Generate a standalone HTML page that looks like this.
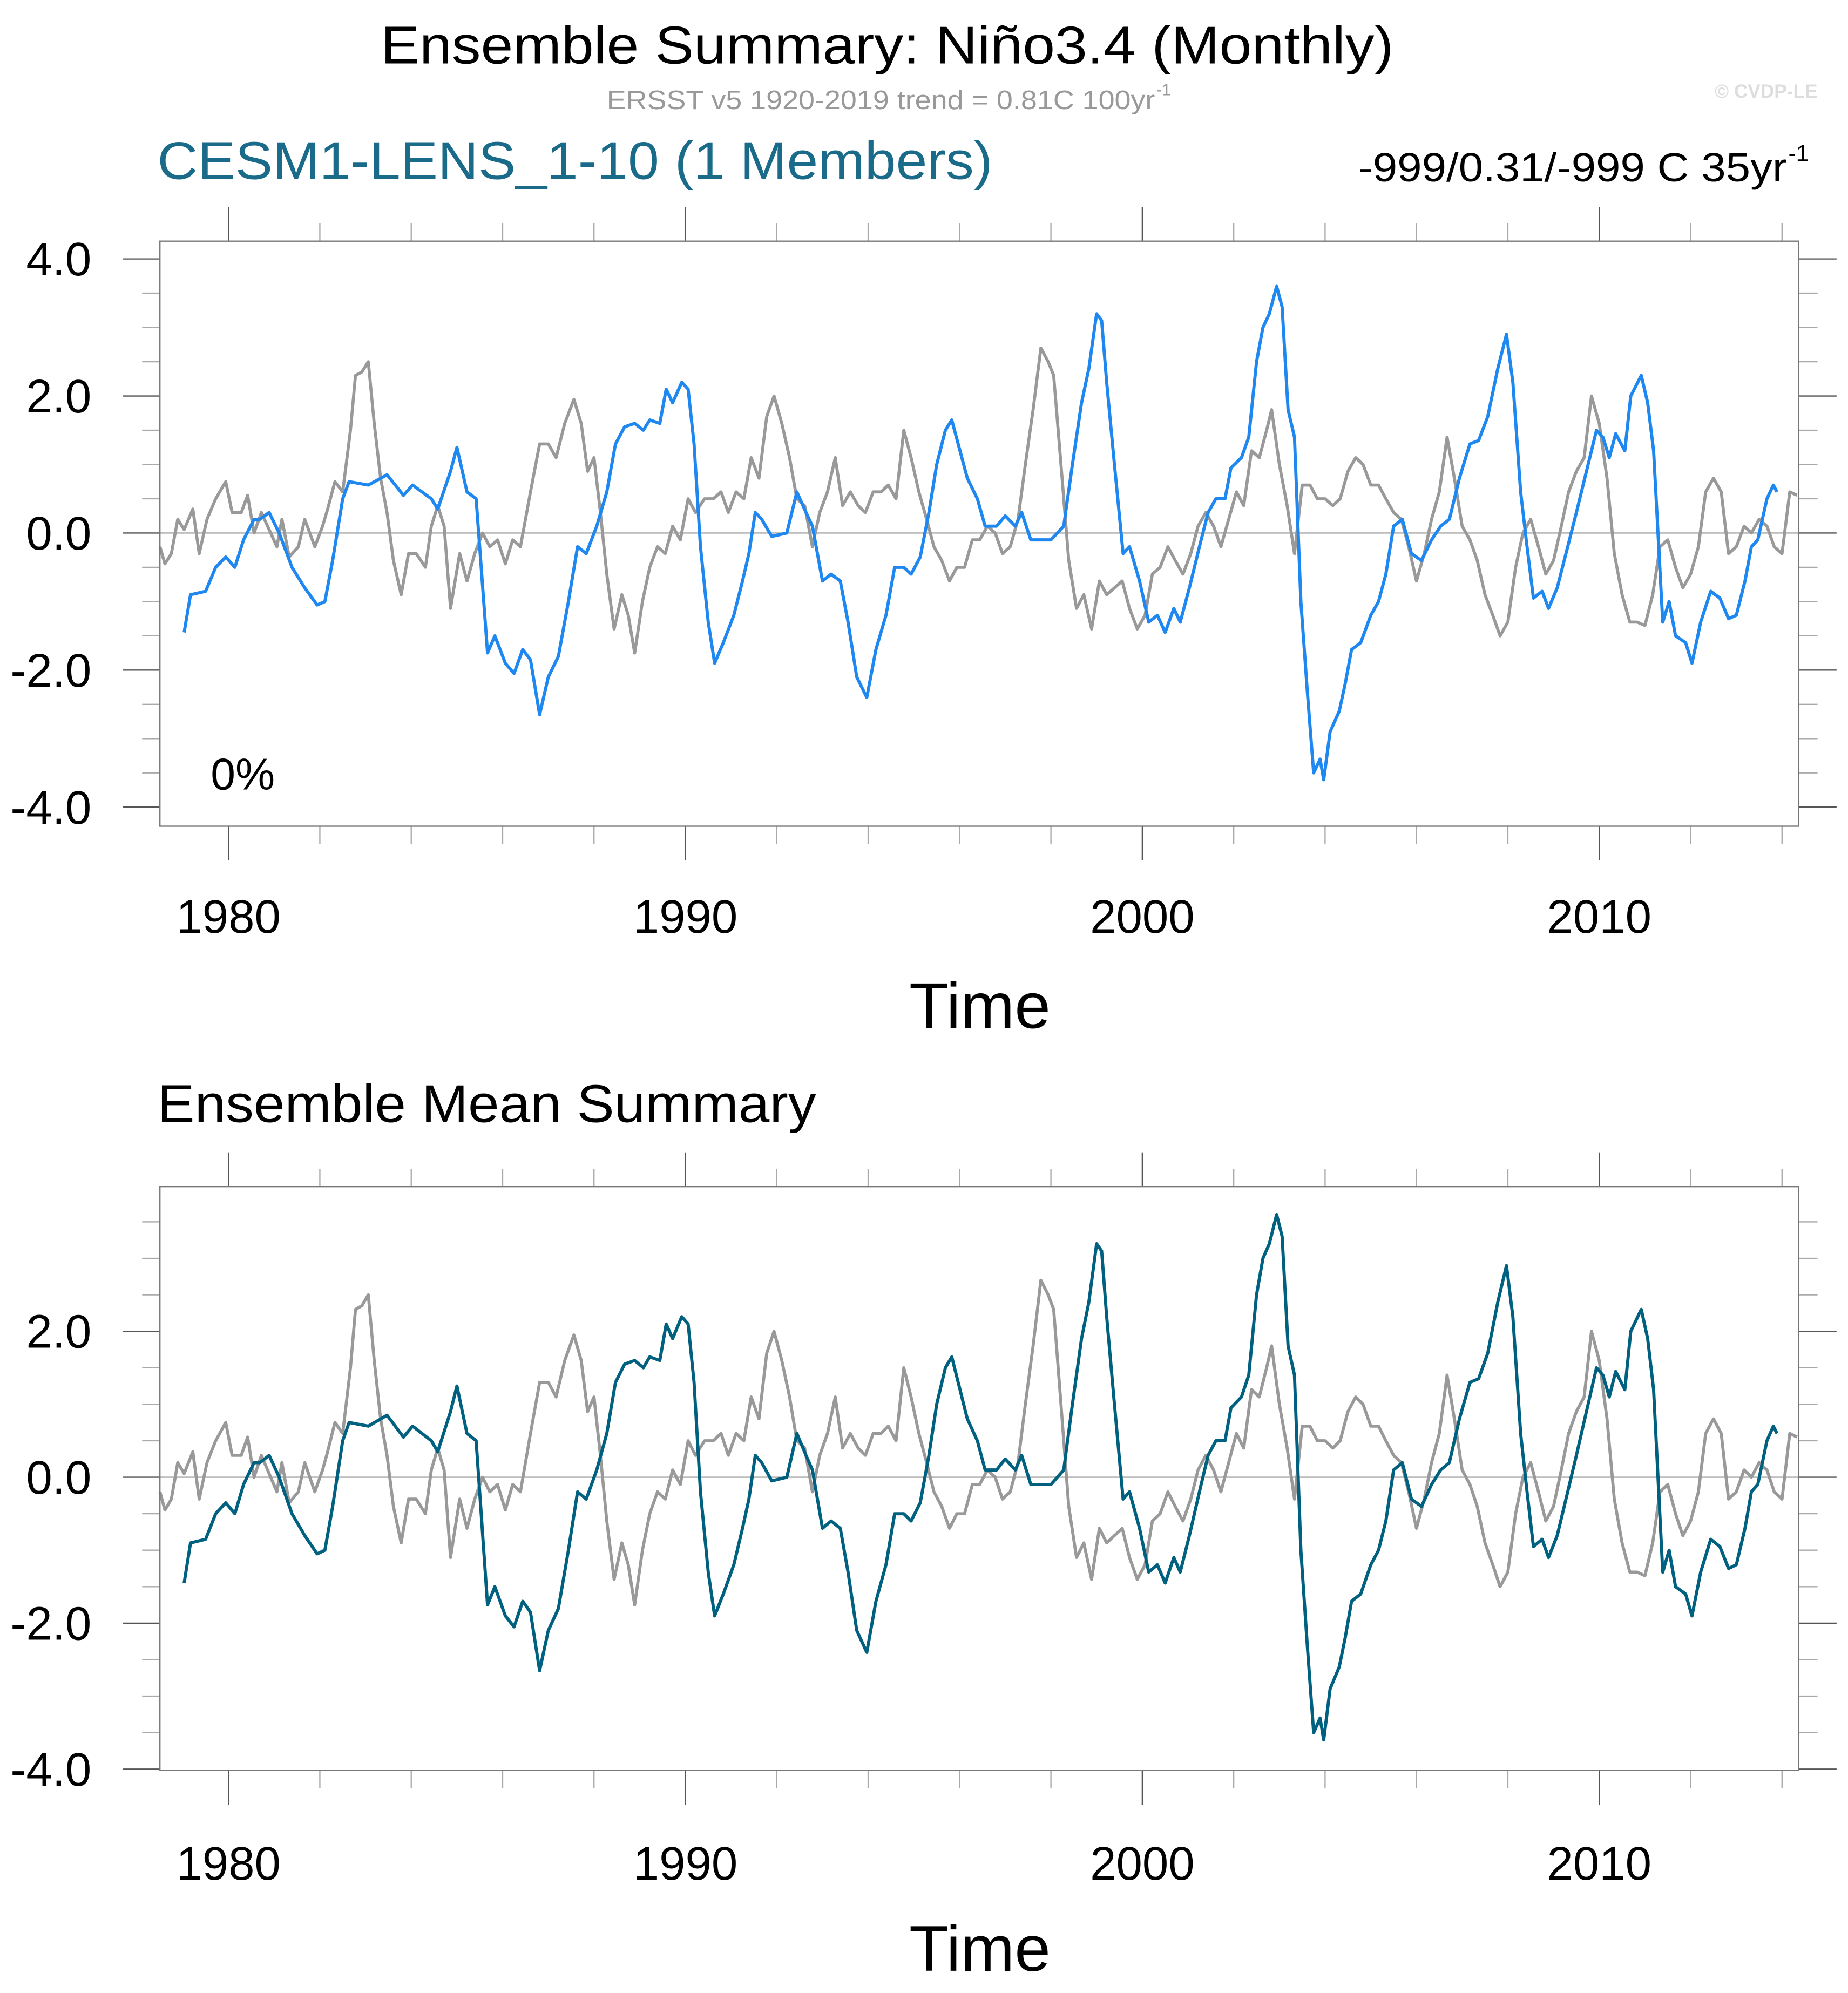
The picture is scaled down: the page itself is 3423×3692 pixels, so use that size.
<!DOCTYPE html>
<html><head><meta charset="utf-8"><style>
html,body{margin:0;padding:0;background:#fff}
svg{display:block}
text{font-family:"Liberation Sans",Arial,sans-serif}
</style></head><body>
<svg id="chart" xmlns="http://www.w3.org/2000/svg" width="3423" height="3692" viewBox="0 0 1456 1570.4">
<rect x="0" y="0" width="1456" height="1570.4" fill="#fff"/>
<text x="300" y="50" font-size="42" textLength="798" lengthAdjust="spacingAndGlyphs" fill="#000">Ensemble Summary: Niño3.4 (Monthly)</text>
<text x="478" y="86" font-size="21" textLength="432" lengthAdjust="spacingAndGlyphs" fill="#999">ERSST v5 1920-2019 trend = 0.81C 100yr</text>
<text x="911" y="75" font-size="13" fill="#999">-1</text>
<text x="1432" y="77" font-size="15" font-weight="bold" text-anchor="end" fill="#ddd">© CVDP-LE</text>
<text x="124" y="141" font-size="42" textLength="658" lengthAdjust="spacingAndGlyphs" fill="#1a6b8a">CESM1-LENS_1-10 (1 Members)</text>
<text x="1070" y="143" font-size="32" textLength="338" lengthAdjust="spacingAndGlyphs" fill="#000">-999/0.31/-999 C 35yr</text>
<text x="1409" y="127" font-size="18" fill="#000">-1</text>
<text x="166" y="622" font-size="35" fill="#000">0%</text>
<text x="124" y="884" font-size="42" textLength="519" lengthAdjust="spacingAndGlyphs" fill="#000">Ensemble Mean Summary</text>
<g id="top"></g>
<g id="bottom"></g>
</svg>
<script>
const BASE_YEAR = 1975;
const xTickYears = [1980, 1990, 2000, 2010];
const topYTicks = [4, 2, 0, -2, -4];
const topYLabels = ["4.0", "2.0", "0.0", "-2.0", "-4.0"];
const botYTicks = [2, 0, -2, -4];
const botYLabels = ["2.0", "0.0", "-2.0", "-4.0"];
// model (CESM1-LENS) series: years since BASE_YEAR and values (C)
const modelT = [4.03,4.17,4.5,4.72,4.94,5.14,5.33,5.56,5.69,5.89,6.11,6.39,6.67,6.94,7.11,7.28,7.5,7.64,8.06,8.47,8.83,9.03,9.44,9.58,9.86,10,10.22,10.42,10.67,10.83,11.06,11.25,11.44,11.61,11.81,12,12.22,12.44,12.64,12.83,13.06,13.28,13.47,13.67,13.89,14.08,14.22,14.44,14.58,14.72,14.92,15.06,15.19,15.33,15.5,15.64,15.83,16.06,16.25,16.39,16.53,16.67,16.89,17.22,17.44,17.64,17.78,18,18.19,18.39,18.56,18.75,18.97,19.17,19.39,19.58,19.78,19.94,20.14,20.33,20.5,20.69,20.83,20.97,21.17,21.39,21.56,21.81,22,22.22,22.36,22.56,22.78,23,23.28,23.47,23.67,23.83,24,24.11,24.22,24.39,24.58,24.72,24.94,25.14,25.33,25.5,25.69,25.83,26.03,26.25,26.44,26.61,26.81,26.94,27.17,27.33,27.5,27.64,27.78,27.94,28.06,28.19,28.33,28.47,28.61,28.75,28.89,28.97,29.11,29.31,29.44,29.58,29.78,30,30.17,30.33,30.5,30.69,30.89,31.11,31.33,31.53,31.72,31.94,32.17,32.36,32.56,32.78,32.97,33.11,33.28,33.42,33.56,33.75,33.89,34.08,34.31,34.5,34.72,34.94,35.08,35.22,35.36,35.56,35.69,35.92,36.06,36.19,36.39,36.53,36.67,36.89,37.03,37.22,37.44,37.64,37.83,38,38.19,38.33,38.47,38.67,38.81,38.89];
const modelV = [-1.45,-0.9,-0.85,-0.5,-0.35,-0.5,-0.1,0.2,0.2,0.3,0,-0.5,-0.8,-1.05,-1.0,-0.4,0.5,0.75,0.7,0.85,0.55,0.7,0.5,0.35,0.9,1.25,0.6,0.5,-1.75,-1.5,-1.9,-2.05,-1.7,-1.85,-2.65,-2.1,-1.8,-1.0,-0.2,-0.3,0.1,0.6,1.3,1.55,1.6,1.5,1.65,1.6,2.1,1.9,2.2,2.1,1.3,-0.2,-1.3,-1.9,-1.6,-1.2,-0.7,-0.3,0.3,0.2,-0.05,0.0,0.6,0.3,0.1,-0.7,-0.6,-0.7,-1.3,-2.1,-2.4,-1.7,-1.2,-0.5,-0.5,-0.6,-0.35,0.3,1.0,1.5,1.65,1.3,0.8,0.5,0.1,0.1,0.25,0.1,0.3,-0.1,-0.1,-0.1,0.1,1.0,1.9,2.4,3.2,3.1,2.2,1.0,-0.3,-0.2,-0.7,-1.3,-1.2,-1.45,-1.1,-1.3,-0.8,-0.2,0.3,0.5,0.5,0.95,1.1,1.4,2.5,3.0,3.2,3.6,3.3,1.8,1.4,-1.0,-2.3,-3.5,-3.3,-3.6,-2.9,-2.6,-2.2,-1.7,-1.6,-1.2,-1.0,-0.6,0.1,0.2,-0.3,-0.4,-0.1,0.1,0.2,0.8,1.3,1.35,1.7,2.4,2.9,2.2,0.6,-0.2,-0.95,-0.85,-1.1,-0.8,-0.2,0.3,0.9,1.5,1.4,1.1,1.45,1.2,2.0,2.3,1.9,1.2,-1.3,-1.0,-1.5,-1.6,-1.9,-1.3,-0.85,-0.95,-1.25,-1.2,-0.7,-0.2,-0.1,0.5,0.7,0.6];
// observations (ERSST v5) series: years since BASE_YEAR and values (C)
const obsT = [3.5,3.61,3.75,3.89,4.03,4.22,4.36,4.53,4.72,4.94,5.08,5.28,5.42,5.56,5.72,5.89,6.06,6.17,6.33,6.53,6.67,6.89,7.06,7.17,7.33,7.5,7.67,7.78,7.92,8.06,8.19,8.33,8.47,8.61,8.78,8.94,9.11,9.31,9.44,9.58,9.72,9.86,10.06,10.22,10.39,10.56,10.72,10.89,11.06,11.22,11.39,11.61,11.81,12,12.17,12.36,12.56,12.72,12.86,13,13.14,13.28,13.44,13.61,13.75,13.89,14.06,14.22,14.39,14.56,14.72,14.89,15.06,15.22,15.42,15.61,15.78,15.94,16.11,16.28,16.44,16.61,16.78,16.94,17.11,17.28,17.44,17.61,17.78,17.94,18.11,18.28,18.44,18.61,18.78,18.94,19.11,19.28,19.44,19.61,19.78,19.94,20.11,20.28,20.44,20.61,20.78,20.94,21.11,21.28,21.44,21.61,21.78,21.94,22.11,22.28,22.44,22.61,22.78,22.94,23.06,23.22,23.39,23.56,23.72,23.89,24.06,24.22,24.39,24.56,24.72,24.89,25.06,25.22,25.39,25.56,25.72,25.89,26.06,26.22,26.39,26.56,26.72,26.89,27.06,27.22,27.39,27.56,27.72,27.83,28,28.17,28.33,28.5,28.67,28.83,29,29.17,29.33,29.5,29.67,29.83,30,30.17,30.33,30.5,30.67,30.83,31,31.17,31.33,31.5,31.67,31.83,32,32.17,32.33,32.5,32.67,32.83,33,33.17,33.33,33.5,33.67,33.83,34,34.17,34.33,34.5,34.67,34.83,35,35.17,35.33,35.5,35.67,35.83,36,36.17,36.33,36.5,36.67,36.83,37,37.17,37.33,37.5,37.67,37.83,38,38.17,38.33,38.5,38.67,38.83,39,39.17,39.33];
const obsV = [-0.2,-0.45,-0.3,0.2,0.05,0.35,-0.3,0.2,0.5,0.75,0.3,0.3,0.55,0.0,0.3,0.05,-0.2,0.2,-0.35,-0.2,0.2,-0.2,0.1,0.35,0.75,0.6,1.5,2.3,2.35,2.5,1.6,0.8,0.3,-0.4,-0.9,-0.3,-0.3,-0.5,0.1,0.4,0.1,-1.1,-0.3,-0.7,-0.3,0.0,-0.2,-0.1,-0.45,-0.1,-0.2,0.6,1.3,1.3,1.1,1.6,1.95,1.6,0.9,1.1,0.3,-0.6,-1.4,-0.9,-1.2,-1.75,-1.0,-0.5,-0.2,-0.3,0.1,-0.1,0.5,0.3,0.5,0.5,0.6,0.3,0.6,0.5,1.1,0.8,1.7,2.0,1.6,1.1,0.5,0.4,-0.2,0.3,0.6,1.1,0.4,0.6,0.4,0.3,0.6,0.6,0.7,0.5,1.5,1.1,0.6,0.2,-0.2,-0.4,-0.7,-0.5,-0.5,-0.1,-0.1,0.1,0.0,-0.3,-0.2,0.2,1.0,1.8,2.7,2.5,2.3,1.0,-0.4,-1.1,-0.9,-1.4,-0.7,-0.9,-0.8,-0.7,-1.1,-1.4,-1.2,-0.6,-0.5,-0.2,-0.4,-0.6,-0.3,0.1,0.3,0.1,-0.2,0.2,0.6,0.4,1.2,1.1,1.5,1.8,1.0,0.4,-0.3,0.7,0.7,0.5,0.5,0.4,0.5,0.9,1.1,1.0,0.7,0.7,0.5,0.3,0.2,-0.2,-0.7,-0.3,0.2,0.6,1.4,0.8,0.1,-0.1,-0.4,-0.9,-1.2,-1.5,-1.3,-0.5,0.0,0.2,-0.2,-0.6,-0.4,0.1,0.6,0.9,1.1,2.0,1.6,0.8,-0.3,-0.9,-1.3,-1.3,-1.35,-0.9,-0.2,-0.1,-0.5,-0.8,-0.6,-0.2,0.6,0.8,0.6,-0.3,-0.2,0.1,0.0,0.2,0.1,-0.2,-0.3,0.6,0.55];

const NS = "http://www.w3.org/2000/svg";
function mk(parent, tag, attrs) {
  const e = document.createElementNS(NS, tag);
  for (const k in attrs) e.setAttribute(k, attrs[k]);
  parent.appendChild(e);
  return e;
}
function xScale(year) { return 180 + (year - 1980) * 36; }

function panel(g, cfg) {
  const L = 126, R = 1417, T = cfg.top, B = cfg.bottom;
  const y = v => cfg.zeroY - v * cfg.pxPerUnit;
  for (let v = -4.5; v <= 4.5; v += 0.5) {
    const py = y(v);
    if (py < T - 0.5 || py > B + 0.5) continue;
    const isMajor = Math.abs(v / 2 - Math.round(v / 2)) < 1e-6;
    const len = isMajor ? 29 : 14;
    const t1 = mk(g, "line", {x1: L - len, y1: py, x2: L, y2: py, stroke: isMajor ? "#555" : "#aaa", "stroke-width": 1});
    
    
    const t2 = mk(g, "line", {x1: R, y1: py, x2: R + len + 1, y2: py, stroke: isMajor ? "#555" : "#aaa", "stroke-width": 1});
    
    
  }
  cfg.ticks.forEach((v, i) => {
    const t = mk(g, "text", {x: 72, y: y(v) + 13, "font-size": 37, "text-anchor": "end", fill: "#000"});
    t.textContent = cfg.labels[i];
    
    
  });
  for (let yr = 1980; yr <= 2014; yr += 2) {
    const px = xScale(yr);
    const isMajor = yr % 10 === 0;
    const len = isMajor ? 27 : 14;
    const a = mk(g, "line", {x1: px, y1: T - len, x2: px, y2: T, stroke: isMajor ? "#555" : "#aaa", "stroke-width": 1});
    
    
    const b = mk(g, "line", {x1: px, y1: B, x2: px, y2: B + len, stroke: isMajor ? "#555" : "#aaa", "stroke-width": 1});
    
    
  }
  xTickYears.forEach(yr => {
    const t = mk(g, "text", {x: xScale(yr), y: cfg.xLabelY, "font-size": 37, "text-anchor": "middle", fill: "#000"});
    t.textContent = String(yr);
    
    
  });
  const xt = mk(g, "text", {x: 772, y: cfg.xTitleY, "font-size": 51, "text-anchor": "middle", fill: "#000"});
  xt.textContent = "Time";
  
  
  const z = mk(g, "line", {x1: L, y1: y(0), x2: R, y2: y(0), stroke: "#aaa", "stroke-width": 1});
  
  
  const ptsObs = obsT.map((t, i) => xScale(BASE_YEAR + t).toFixed(2) + "," + y(obsV[i]).toFixed(2)).join(" ");
  const lo = mk(g, "polyline", {points: ptsObs, fill: "none", stroke: "#999", "stroke-width": 2.4, "stroke-linejoin": "round"});
  
  
  const ptsMod = modelT.map((t, i) => xScale(BASE_YEAR + t).toFixed(2) + "," + y(modelV[i]).toFixed(2)).join(" ");
  const lm = mk(g, "polyline", {points: ptsMod, fill: "none", stroke: cfg.color, "stroke-width": 2.5, "stroke-linejoin": "round"});
  
  
  const f = mk(g, "rect", {x: L, y: T, width: R - L, height: B - T, fill: "none", stroke: "#777", "stroke-width": 1});
  
  
}

const gTop = document.getElementById("top");


panel(gTop, {top: 190, bottom: 651, zeroY: 420, pxPerUnit: 54, ticks: topYTicks, labels: topYLabels, xLabelY: 735, xTitleY: 810, color: "#1e88f0", lineName: 'model-member-line'});
const gBot = document.getElementById("bottom");


panel(gBot, {top: 935, bottom: 1395, zeroY: 1164, pxPerUnit: 57.5, ticks: botYTicks, labels: botYLabels, xLabelY: 1481, xTitleY: 1553, color: "#00607f", lineName: 'ensemble-mean-line'});
</script>
</body></html>
